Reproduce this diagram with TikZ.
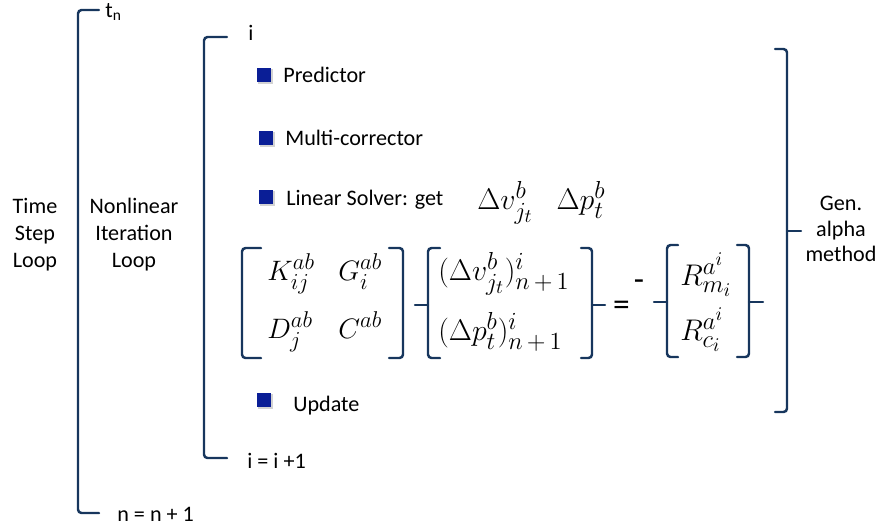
\RequirePackage{fix-cm}
\documentclass[tikz,border=0pt]{standalone}
\usepackage{amsmath}
\usepackage[no-math]{fontspec}
\setmainfont{Carlito}
\usepackage{xcolor}
\usetikzlibrary{positioning,shadows}

\definecolor{bracketblue}{RGB}{23,54,93}
\definecolor{bulletblue}{RGB}{10,30,150}
% larger scripts, as in the original equations
\DeclareMathSizes{16}{16}{13}{10.5}
\DeclareMathSizes{17}{17}{14}{11}

\begin{document}
\begin{tikzpicture}[
  font=\fontsize{12.6}{15.4}\selectfont,
  bracket/.style={draw=bracketblue, line width=1.4pt, rounded corners=2pt,
    line cap=round},
  bullet/.style={fill=bulletblue, minimum size=0.29cm, inner sep=0pt,
    drop shadow={opacity=0.35, shadow xshift=0.03cm, shadow yshift=-0.03cm}},
  item/.style={anchor=base west, inner sep=0pt},
  term/.style={anchor=base west, inner sep=0pt,
    font=\fontsize{16}{18}\selectfont},
  bigterm/.style={term, font=\fontsize{17}{19}\selectfont},
  sign/.style={inner sep=0pt, font=\fontsize{19}{21}\selectfont},
  looplabel/.style={align=center, inner sep=0pt}
]
\useasboundingbox (0,0) rectangle (17.62,-10.58);

% time step loop
\draw[bracket] (1.98,-0.2) -- (1.56,-0.2) -- (1.56,-10.26) -- (1.98,-10.26);
\node[item] (tn) at (2.1,-0.34) {t\textsubscript{n}};
\node[item] (nstep) at (2.34,-10.42) {n = n + 1};
\node[looplabel] (timeloop) at (0.7,-4.7) {Time\\Step\\Loop};

% nonlinear iteration loop
\draw[bracket] (4.54,-0.74) -- (4.08,-0.74) -- (4.08,-9.16) -- (4.54,-9.16);
\node[item] (iter) at (4.96,-0.8) {i};
\node[item] (istep) at (4.94,-9.36) {i = i +1};
\node[looplabel] (nonlinloop) at (2.68,-4.7) {Nonlinear\\Iteration\\Loop};

% steps
\node[bullet] (b1) at (5.28,-1.5) {};
\node[item] (predictor) at (5.66,-1.64) {Predictor};
\node[bullet] (b2) at (5.32,-2.76) {};
\node[item] (corrector) at (5.7,-2.9) {Multi-corrector};
\node[bullet] (b3) at (5.32,-3.94) {};
\node[item] (solver) at (5.72,-4.1) {Linear Solver: get};
\node[bigterm] (unknowns) at (9.54,-4.18)
  {$\Delta v^b_{j_t}\mkern14mu\Delta p^b_t$};
\node[bullet] (b4) at (5.28,-8.0) {};
\node[item] (update) at (5.86,-8.22) {Update};

% linear system
\draw[bracket] (5.22,-4.96) -- (4.84,-4.96) -- (4.84,-7.16) -- (5.22,-7.16);
\draw[bracket] (7.78,-4.96) -- (8.06,-4.96) -- (8.06,-7.16) -- (7.78,-7.16);
\node[term] (kab) at (5.34,-5.6) {$K^{ab}_{ij}$};
\node[term] (gab) at (6.76,-5.6) {$G^{ab}_{i}$};
\node[term] (dab) at (5.34,-6.76) {$D^{ab}_{j}$};
\node[term] (cab) at (6.76,-6.76) {$C^{ab}$};

\draw[bracket] (8.8,-4.96) -- (8.56,-4.96) -- (8.56,-7.16) -- (8.8,-7.16);
\draw[bracket] (8.56,-6.1) -- (8.3,-6.1);
\draw[bracket] (11.62,-4.96) -- (11.84,-4.96) -- (11.84,-7.16) -- (11.62,-7.16);
\draw[bracket] (11.84,-6.1) -- (12.1,-6.1);
\node[bigterm] (dv) at (8.76,-5.6) {$(\Delta v^b_{j_t})^i_{n\,+\,1}$};
\node[bigterm] (dp) at (8.76,-6.8) {$(\Delta p^b_t)^i_{n\,+\,1}$};

\node[sign] (eq) at (12.43,-6.16) {=};
\node[sign] (minus) at (12.78,-5.7) {-};

\draw[bracket] (13.56,-4.9) -- (13.34,-4.9) -- (13.34,-7.14) -- (13.56,-7.14);
\draw[bracket] (13.34,-6.04) -- (13.08,-6.04);
\draw[bracket] (14.74,-4.9) -- (14.98,-4.9) -- (14.98,-7.14) -- (14.74,-7.14);
\draw[bracket] (14.98,-6.04) -- (15.26,-6.04);
\node[bigterm] (rm) at (13.6,-5.7) {$R^{a^i}_{m_i}$};
\node[bigterm] (rc) at (13.6,-6.8) {$R^{a^i}_{c_i}$};

% time integration
\draw[bracket] (15.5,-0.98) -- (15.74,-0.98) -- (15.74,-8.24) -- (15.5,-8.24);
\draw[bracket] (15.74,-4.62) -- (16.02,-4.62);
\node[looplabel, font=\fontsize{12.6}{14.5}\selectfont] (genalpha)
  at (16.82,-4.58) {Gen.\\alpha\\method};
\end{tikzpicture}
\end{document}
